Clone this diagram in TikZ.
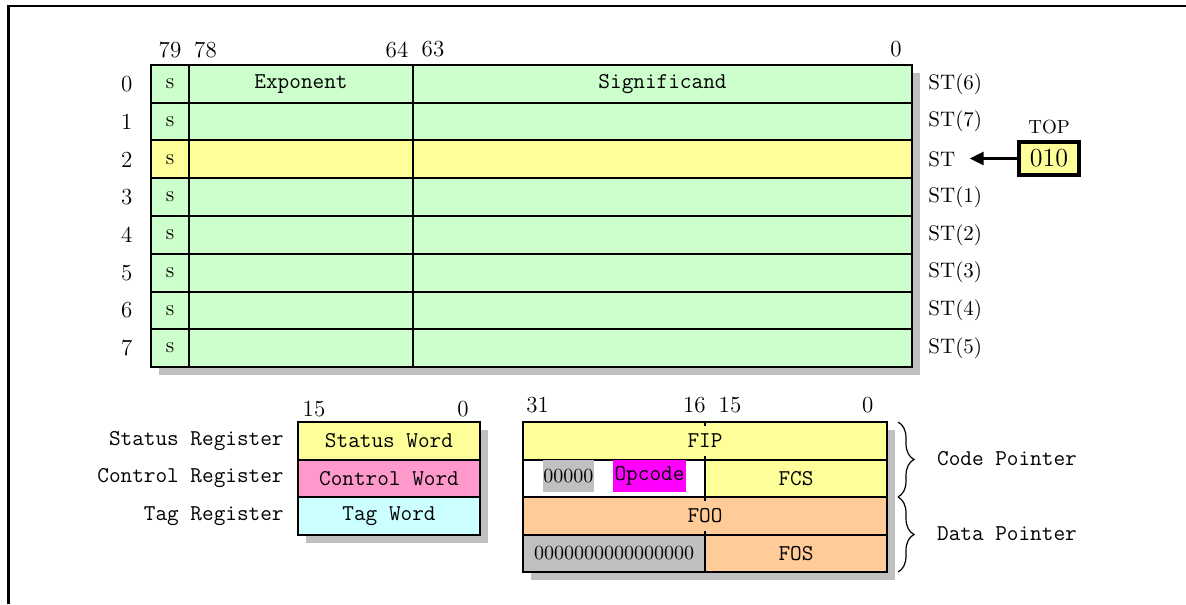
\documentclass[tikz,border=0pt]{standalone}
\usetikzlibrary{arrows.meta, positioning, backgrounds, decorations.pathreplacing}

\definecolor{reggreen}{HTML}{CCFFCC}
\definecolor{regyellow}{HTML}{FFFF99}
\definecolor{regpink}{HTML}{FF99CC}
\definecolor{regcyan}{HTML}{CCFFFF}
\definecolor{regorange}{HTML}{FFCC99}
\definecolor{reggray}{HTML}{C0C0C0}
\definecolor{regmagenta}{HTML}{FF00FF}
\newcommand{\regmono}{\ttfamily\fontsize{11.3}{13}\selectfont}

\begin{document}
\begin{tikzpicture}[
    x=0.5pt, y=-0.5pt,
    cell/.style={rectangle, draw, line width=1pt, inner sep=0pt, outer sep=0pt, minimum height=18.875pt},
    half/.style={cell, minimum width=91pt, minimum height=18.75pt, font=\regmono},
    full/.style={half, minimum width=182pt},
    bitnum/.style={inner sep=0pt, font=\fontsize{11.5}{13}\selectfont},
    stlabel/.style={anchor=west, inner sep=0pt, font=\fontsize{10.5}{12}\selectfont},
    wordlabel/.style={inner sep=0pt, font=\regmono},
    shade/.style={fill=reggray},
    arrow/.style={-{Triangle[length=7pt, width=6.5pt]}, line width=1.3pt},
    curly/.style={decorate, decoration={brace, amplitude=8pt}, line width=0.6pt}
]
\useasboundingbox (0,0) rectangle (1186,604);
\draw[line width=1.25pt] (8.7,604) -- (8.7,6.2) -- (1186,6.2);

% data registers
\foreach \i/\st/\col in {0/{ST(6)}/reggreen, 1/{ST(7)}/reggreen, 2/ST/regyellow, 3/{ST(1)}/reggreen,
    4/{ST(2)}/reggreen, 5/{ST(3)}/reggreen, 6/{ST(4)}/reggreen, 7/{ST(5)}/reggreen} {
    \node[cell, fill=\col, minimum width=19pt, font=\fontsize{11}{13}\selectfont] (s\i) at (170,{83.875+37.75*\i}) {s};
    \node[cell, fill=\col, minimum width=112pt, right=0pt of s\i] (e\i) {};
    \node[cell, fill=\col, minimum width=249.5pt, right=0pt of e\i] (m\i) {};
    \node[bitnum] (n\i) at (126.7,{83.875+37.75*\i}) {\i};
    \node[stlabel] (st\i) at (928,{83.875+37.75*\i}) {\st};
}
\node[wordlabel] (exp) at (e0) {Exponent};
\node[wordlabel] (sig) at (m0) {Significand};
\node[bitnum] (b79) at (170,49.5) {79};
\node[bitnum] (b78) at (205.5,49.5) {78};
\node[bitnum] (b64) at (397,49.5) {64};
\node[bitnum] (b63) at (433,49.5) {63};
\node[bitnum] (b0) at (896,49.5) {0};

% top pointer
\node[cell, fill=regyellow, line width=1.6pt, minimum width=30pt, minimum height=16.5pt,
    font=\fontsize{13}{15}\selectfont] (top) at (1049,158.5) {010};
\node[inner sep=0pt, font=\fontsize{9.5}{11}\selectfont, above=4pt of top] (toplabel) {TOP};
\draw[arrow, shorten >=7pt] (top.west) -- (top.west -| st2.east);

% control, status, tag
\node[half, fill=regyellow] (sw) at (389,440.75) {Status Word};
\node[half, fill=regpink, below=0pt of sw] (cw) {Control Word};
\node[half, fill=regcyan, below=0pt of cw] (tw) {Tag Word};
\node[wordlabel, left=7pt of sw] (swlabel) {Status Register};
\node[wordlabel, left=7pt of cw] (cwlabel) {Control Register};
\node[wordlabel, left=7pt of tw] (twlabel) {Tag Register};
\node[bitnum] (w15) at (314,409) {15};
\node[bitnum] (w0) at (463,409) {0};

% pointers
\node[full, fill=regyellow] (fip) at (705,440.75) {FIP};
\node[half, fill=white, below right=0pt and 0pt of fip.south west] (opc) {};
\node[half, fill=regyellow, right=0pt of opc] (fcs) {FCS};
\node[full, fill=regorange, below right=0pt and 0pt of opc.south west] (foo) {FOO};
\node[half, fill=reggray, below right=0pt and 0pt of foo.south west, font=\fontsize{10}{12}\selectfont] (fzero) {0000000000000000};
\node[half, fill=regorange, right=0pt of fzero] (fos) {FOS};
\node[fill=reggray, inner sep=0pt, minimum width=25.7pt, minimum height=15.9pt,
    font=\fontsize{10}{12}\selectfont] (opzero) at (568.3,475.9) {00000};
\node[fill=regmagenta, inner sep=0pt, minimum width=36.2pt, minimum height=15.9pt,
    font=\regmono] (opcode) at (649.5,475.9) {Opcode};
\draw[line width=1pt] (fip.north) -- ++(0,4) (fip.south) -- ++(0,-4)
    (foo.north) -- ++(0,4) (foo.south) -- ++(0,-4);
\node[bitnum] (p31) at (537.7,405) {31};
\node[bitnum] (p16) at (694.3,405) {16};
\node[bitnum] (p15) at (730,405) {15};
\node[bitnum] (p0) at (867.7,405) {0};
\draw[curly] ([xshift=5.5pt]fip.north east) -- ([xshift=5.5pt]fcs.south east);
\draw[curly] ([xshift=5.5pt]foo.north east) -- ([xshift=5.5pt]fos.south east);
\node[wordlabel, anchor=west] (codeptr) at (936.7,459) {Code Pointer};
\node[wordlabel, anchor=west] (dataptr) at (936.7,534) {Data Pointer};

% shadows
\begin{scope}[on background layer]
\fill[shade] ([shift={(4pt,-4pt)}]s0.north west) rectangle ([shift={(4pt,-4pt)}]m7.south east);
\fill[shade] ([shift={(4pt,-4pt)}]sw.north west) rectangle ([shift={(4pt,-4pt)}]tw.south east);
\fill[shade] ([shift={(4pt,-4pt)}]fip.north west) rectangle ([shift={(4pt,-4pt)}]fos.south east);
\end{scope}
\end{tikzpicture}
\end{document}
